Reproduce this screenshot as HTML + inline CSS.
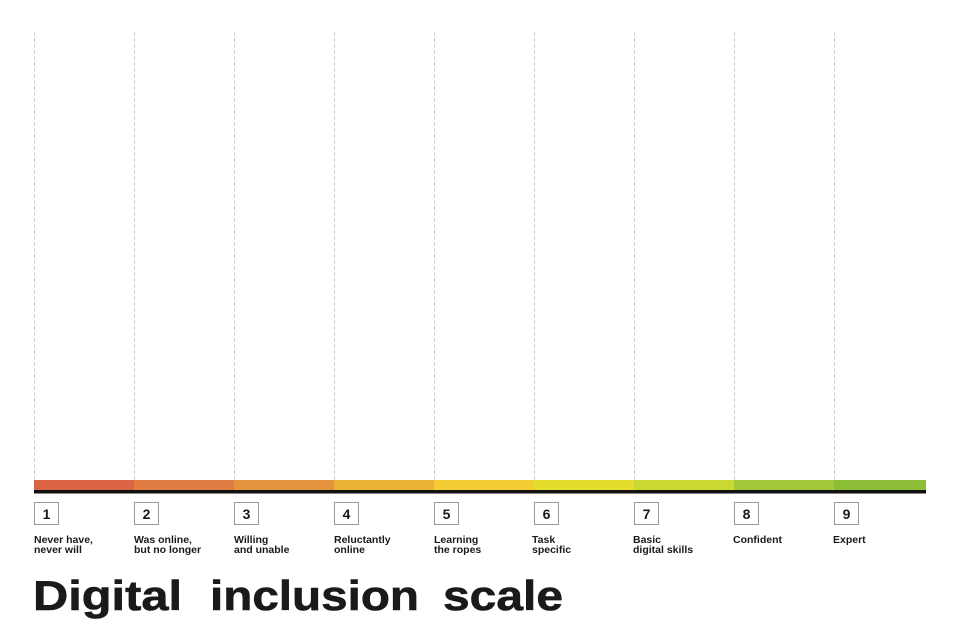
<!DOCTYPE html>
<html>
<head>
<meta charset="utf-8">
<style>
  html, body { margin:0; padding:0; background:#fff; }
  body { width:960px; height:640px; overflow:hidden; }
  svg { display:block; }
  .lbl { font-family:"Liberation Sans", sans-serif; font-weight:bold; font-size:10.5px; fill:#1a1a1a; }
  .num { font-family:"Liberation Sans", sans-serif; font-weight:bold; font-size:14px; fill:#1a1a1a; }
  .title { font-family:"Liberation Sans", sans-serif; font-weight:bold; font-size:42px; fill:#1a1a1a; stroke:#1a1a1a; stroke-width:0.6; }
</style>
</head>
<body>
<svg width="960" height="640" viewBox="0 0 960 640" xmlns="http://www.w3.org/2000/svg">
  <g stroke="#cfcfcf" stroke-width="1" stroke-dasharray="4,2">
    <line x1="34.5" y1="32" x2="34.5" y2="480"/>
    <line x1="134.5" y1="32" x2="134.5" y2="480"/>
    <line x1="234.5" y1="32" x2="234.5" y2="480"/>
    <line x1="334.5" y1="32" x2="334.5" y2="480"/>
    <line x1="434.5" y1="32" x2="434.5" y2="480"/>
    <line x1="534.5" y1="32" x2="534.5" y2="480"/>
    <line x1="634.5" y1="32" x2="634.5" y2="480"/>
    <line x1="734.5" y1="32" x2="734.5" y2="480"/>
    <line x1="834.5" y1="32" x2="834.5" y2="480"/>
  </g>
  <!-- colored bar -->
  <rect x="34" y="480" width="100" height="10" fill="#dc6446"/>
  <rect x="134" y="480" width="100" height="10" fill="#e07c42"/>
  <rect x="234" y="480" width="100" height="10" fill="#e4933c"/>
  <rect x="334" y="480" width="100" height="10" fill="#ecb237"/>
  <rect x="434" y="480" width="100" height="10" fill="#f3cb32"/>
  <rect x="534" y="480" width="100" height="10" fill="#e4dd2d"/>
  <rect x="634" y="480" width="100" height="10" fill="#cad834"/>
  <rect x="734" y="480" width="100" height="10" fill="#a2c73a"/>
  <rect x="834" y="480" width="92" height="10" fill="#8cbd36"/>
  <rect x="34" y="490" width="892" height="3" fill="#111"/>
  <rect x="34" y="493" width="892" height="1" fill="#888"/>

  <!-- number boxes -->
  <g fill="#fff" stroke="#999" stroke-width="1">
    <rect x="34.5" y="502.5" width="24" height="22"/>
    <rect x="134.5" y="502.5" width="24" height="22"/>
    <rect x="234.5" y="502.5" width="24" height="22"/>
    <rect x="334.5" y="502.5" width="24" height="22"/>
    <rect x="434.5" y="502.5" width="24" height="22"/>
    <rect x="534.5" y="502.5" width="24" height="22"/>
    <rect x="634.5" y="502.5" width="24" height="22"/>
    <rect x="734.5" y="502.5" width="24" height="22"/>
    <rect x="834.5" y="502.5" width="24" height="22"/>
  </g>
  <g class="num" text-anchor="middle">
    <text x="46.5" y="519">1</text>
    <text x="146.5" y="519">2</text>
    <text x="246.5" y="519">3</text>
    <text x="346.5" y="519">4</text>
    <text x="446.5" y="519">5</text>
    <text x="546.5" y="519">6</text>
    <text x="646.5" y="519">7</text>
    <text x="746.5" y="519">8</text>
    <text x="846.5" y="519">9</text>
  </g>

  <!-- labels -->
  <g class="lbl">
    <text x="34" y="543">Never have,</text>
    <text x="34" y="553">never will</text>
    <text x="134" y="543">Was online,</text>
    <text x="134" y="553">but no longer</text>
    <text x="234" y="543">Willing</text>
    <text x="234" y="553">and unable</text>
    <text x="334" y="543">Reluctantly</text>
    <text x="334" y="553">online</text>
    <text x="434" y="543">Learning</text>
    <text x="434" y="553">the ropes</text>
    <text x="532" y="543">Task</text>
    <text x="532" y="553">specific</text>
    <text x="633" y="543">Basic</text>
    <text x="633" y="553">digital skills</text>
    <text x="733" y="543">Confident</text>
    <text x="833" y="543">Expert</text>
  </g>

  <!-- title -->
  <g class="title">
    <text x="33" y="610" textLength="149" lengthAdjust="spacingAndGlyphs">Digital</text>
    <text x="210" y="610" textLength="209" lengthAdjust="spacingAndGlyphs">inclusion</text>
    <text x="443" y="610" textLength="120" lengthAdjust="spacingAndGlyphs">scale</text>
  </g>
</svg>
</body>
</html>
